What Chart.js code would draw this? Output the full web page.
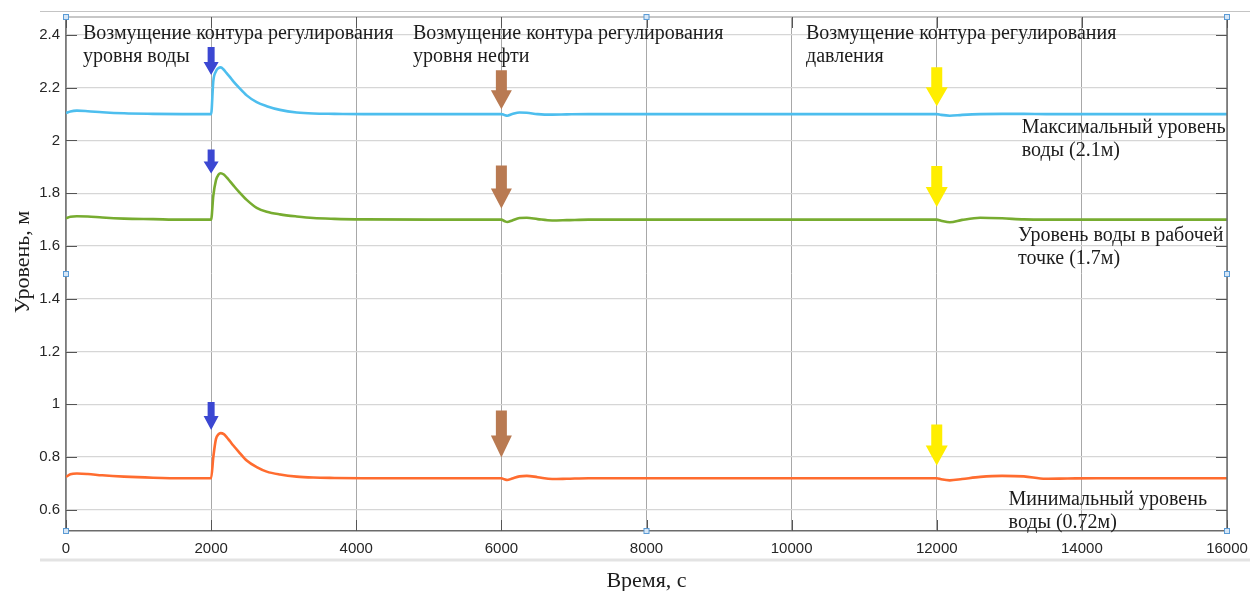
<!DOCTYPE html>
<html>
<head>
<meta charset="utf-8">
<script src="https://cdn.jsdelivr.net/npm/chart.js@4.4.1/dist/chart.umd.min.js"></script>
<style>
  html, body { margin: 0; padding: 0; background: #fff; }
  #wrap { width: 1250px; height: 591px; position: relative; }
</style>
</head>
<body>
<div id="wrap"><canvas id="c" width="1250" height="591"></canvas></div>
<script>
// Simulation time, s
const TIME = [0, 60, 150, 300, 500, 800, 1200, 1600,
  2000, 2030, 2067, 2100, 2132, 2175, 2214, 2260, 2306, 2375,
  2490, 2628, 2766, 2949, 3179, 3408, 3700, 4100,
  5000, 6000, 6040, 6080, 6150, 6250, 6350, 6500, 6700, 6900,
  7200, 8000, 10000,
  12000, 12060, 12180, 12350, 12600, 12900, 13200, 13500, 13800, 14200,
  15000, 16000];

// Maximum water level, m
const LEVEL_MAX = [2.104, 2.110, 2.113, 2.111, 2.107, 2.103, 2.101, 2.100,
  2.100, 2.225, 2.262, 2.274, 2.277, 2.268, 2.255, 2.240, 2.224, 2.203,
  2.171, 2.145, 2.130, 2.116, 2.106, 2.102, 2.101, 2.100,
  2.100, 2.100, 2.097, 2.094, 2.100, 2.106, 2.105, 2.100, 2.098, 2.099,
  2.100, 2.100, 2.100,
  2.100, 2.097, 2.094, 2.097, 2.100, 2.101, 2.101, 2.100, 2.100, 2.100,
  2.100, 2.100];

// Water level at the operating point, m
const LEVEL_WORK = [1.705, 1.711, 1.713, 1.712, 1.708, 1.704, 1.702, 1.700,
  1.700, 1.790, 1.850, 1.870, 1.876, 1.871, 1.860, 1.845, 1.830, 1.808,
  1.775, 1.745, 1.730, 1.720, 1.712, 1.706, 1.703, 1.701,
  1.700, 1.700, 1.695, 1.691, 1.697, 1.706, 1.707, 1.702, 1.697, 1.698,
  1.700, 1.700, 1.700,
  1.700, 1.696, 1.690, 1.699, 1.707, 1.705, 1.701, 1.700, 1.700, 1.700,
  1.700, 1.700];

// Minimum water level, m
const LEVEL_MIN = [0.725, 0.735, 0.738, 0.736, 0.731, 0.726, 0.722, 0.720,
  0.720, 0.800, 0.869, 0.886, 0.891, 0.887, 0.876, 0.860, 0.844, 0.822,
  0.787, 0.762, 0.745, 0.734, 0.726, 0.7225, 0.721, 0.720,
  0.720, 0.720, 0.716, 0.713, 0.719, 0.727, 0.729, 0.724, 0.717, 0.718,
  0.720, 0.720, 0.720,
  0.720, 0.716, 0.712, 0.717, 0.725, 0.729, 0.727, 0.718, 0.719, 0.720,
  0.720, 0.720];

const X_TICKS = [0, 2000, 4000, 6000, 8000, 10000, 12000, 14000, 16000];
const Y_TICKS = [0.6, 0.8, 1, 1.2, 1.4, 1.6, 1.8, 2, 2.2, 2.4];
const Y_TICK_LABELS = ['0.6', '0.8', '1', '1.2', '1.4', '1.6', '1.8', '2', '2.2', '2.4'];

// Disturbance moments and the arrow tip level on each curve
const DISTURB_TIME = [2000, 6000, 12000];
const ARROW_TIP_MAX = [2.248, 2.118, 2.130];
const ARROW_TIP_WORK = [1.875, 1.742, 1.748];
const ARROW_TIP_MIN = [0.903, 0.799, 0.768];

// Disturbance captions: anchor (time, level of first baseline) and text lines
const CAPTION_TIME = [234, 4782, 10198];
const CAPTION_LEVEL = [2.383, 2.383, 2.383];
const CAPTION_TEXT = [
  ['Возмущение контура регулирования', 'уровня воды'],
  ['Возмущение контура регулирования', 'уровня нефти'],
  ['Возмущение контура регулирования', 'давления']
];

// Curve captions
const SERIES_LABEL_TIME = [13170, 13120, 12990];
const SERIES_LABEL_LEVEL = [2.027, 1.618, 0.620];
const SERIES_LABEL_TEXT = [
  ['Максимальный уровень', 'воды (2.1м)'],
  ['Уровень воды в рабочей', 'точке (1.7м)'],
  ['Минимальный уровень', 'воды (0.72м)']
];

const X_TITLE = 'Время, с';
const Y_TITLE = 'Уровень, м';

// ---- styles ----
const SERIF = '"Liberation Serif", "Times New Roman", serif';
const SANS = '"Liberation Sans", Arial, sans-serif';
const ARROW_STYLE = [
  { color: '#3B47D2', len: [28, 24, 28], head: [13, 12, 14], shaft: 7, headW: 15 },
  { color: '#B97A52', len: [39, 43, 47], head: [19, 20, 22], shaft: 11, headW: 21 },
  { color: '#FFEE00', len: [39, 41, 41], head: [19, 20, 20], shaft: 11, headW: 22 }
];

const toPoints = (ys) => TIME.map((t, i) => ({ x: t, y: ys[i] }));

function drawArrow(ctx, x, tipY, len, head, shaft, headW, color) {
  ctx.save();
  ctx.fillStyle = color;
  ctx.beginPath();
  ctx.moveTo(x - shaft / 2, tipY - len);
  ctx.lineTo(x + shaft / 2, tipY - len);
  ctx.lineTo(x + shaft / 2, tipY - head);
  ctx.lineTo(x + headW / 2, tipY - head);
  ctx.lineTo(x, tipY);
  ctx.lineTo(x - headW / 2, tipY - head);
  ctx.lineTo(x - shaft / 2, tipY - head);
  ctx.closePath();
  ctx.fill();
  ctx.restore();
}

const decor = {
  id: 'decor',
  beforeDraw(chart) {
    const ctx = chart.ctx;
    ctx.save();
    ctx.fillStyle = '#ffffff';
    ctx.fillRect(0, 0, chart.width, chart.height);
    // page edge lines around the figure
    ctx.strokeStyle = '#c4c4c4';
    ctx.lineWidth = 1.2;
    ctx.beginPath(); ctx.moveTo(40, 11.5); ctx.lineTo(1250, 11.5); ctx.stroke();
    ctx.strokeStyle = '#e3e3e3';
    ctx.lineWidth = 3;
    ctx.beginPath(); ctx.moveTo(40, 560); ctx.lineTo(1250, 560); ctx.stroke();
    ctx.restore();
  },
  afterDatasetsDraw(chart) {
    const ctx = chart.ctx;
    const xs = chart.scales.x, ys = chart.scales.y;
    const tips = [ARROW_TIP_MAX, ARROW_TIP_WORK, ARROW_TIP_MIN];
    DISTURB_TIME.forEach((t, i) => {
      const st = ARROW_STYLE[i];
      const x = xs.getPixelForValue(t);
      tips.forEach((row, k) => {
        drawArrow(ctx, x, ys.getPixelForValue(row[i]), st.len[k], st.head[k], st.shaft, st.headW, st.color);
      });
    });
  },
  afterDraw(chart) {
    const ctx = chart.ctx;
    const a = chart.chartArea;
    const xs = chart.scales.x, ys = chart.scales.y;
    ctx.save();
    // frame: top and right edges
    ctx.strokeStyle = '#b5b5b5';
    ctx.lineWidth = 1.5;
    ctx.beginPath(); ctx.moveTo(a.left, a.top); ctx.lineTo(a.right, a.top); ctx.stroke();
    ctx.strokeStyle = '#6b6b6b';
    ctx.beginPath(); ctx.moveTo(a.right, a.top); ctx.lineTo(a.right, a.bottom); ctx.stroke();
    // inward tick marks
    ctx.strokeStyle = '#555555';
    ctx.lineWidth = 1;
    const tl = 11;
    Y_TICKS.forEach(v => {
      const y = Math.round(ys.getPixelForValue(v)) + 0.5;
      ctx.beginPath(); ctx.moveTo(a.left, y); ctx.lineTo(a.left + tl, y); ctx.stroke();
      ctx.beginPath(); ctx.moveTo(a.right, y); ctx.lineTo(a.right - tl, y); ctx.stroke();
    });
    X_TICKS.forEach(v => {
      const x = Math.round(xs.getPixelForValue(v)) + 0.5;
      ctx.beginPath(); ctx.moveTo(x, a.bottom); ctx.lineTo(x, a.bottom - tl); ctx.stroke();
      ctx.beginPath(); ctx.moveTo(x, a.top); ctx.lineTo(x, a.top + tl); ctx.stroke();
    });
    // captions
    ctx.fillStyle = '#1c1c1c';
    ctx.font = '20px ' + SERIF;
    ctx.textBaseline = 'alphabetic';
    ctx.textAlign = 'left';
    CAPTION_TEXT.forEach((lines, i) => {
      const x = xs.getPixelForValue(CAPTION_TIME[i]);
      const y = ys.getPixelForValue(CAPTION_LEVEL[i]);
      lines.forEach((s, k) => ctx.fillText(s, x, y + k * 23));
    });
    SERIES_LABEL_TEXT.forEach((lines, i) => {
      const x = xs.getPixelForValue(SERIES_LABEL_TIME[i]);
      const y = ys.getPixelForValue(SERIES_LABEL_LEVEL[i]);
      lines.forEach((s, k) => ctx.fillText(s, x, y + k * 23));
    });
    // axis titles
    ctx.font = '22px ' + SERIF;
    ctx.textAlign = 'center';
    ctx.fillText(X_TITLE, (a.left + a.right) / 2, 587);
    ctx.save();
    ctx.translate(29, 262);
    ctx.rotate(-Math.PI / 2);
    ctx.fillText(Y_TITLE, 0, 0);
    ctx.restore();
    // selection handles around the plot box
    const hx = [a.left, (a.left + a.right) / 2, a.right];
    const hy = [a.top, (a.top + a.bottom) / 2, a.bottom];
    ctx.fillStyle = '#d6e6f6';
    ctx.strokeStyle = '#5b9bd5';
    ctx.lineWidth = 1;
    hx.forEach((x, i) => hy.forEach((y, j) => {
      if (i === 1 && j === 1) return;
      ctx.fillRect(x - 2.5, y - 2.5, 5, 5);
      ctx.strokeRect(x - 2.5, y - 2.5, 5, 5);
    }));
    ctx.restore();
  }
};

const lineSet = (label, ys, color) => ({
  label,
  data: toPoints(ys),
  borderColor: color,
  borderWidth: 2.6,
  pointRadius: 0,
  fill: false,
  cubicInterpolationMode: 'monotone'
});

new Chart(document.getElementById('c'), {
  type: 'line',
  data: {
    datasets: [
      lineSet('Максимальный уровень воды', LEVEL_MAX, '#4DBEEE'),
      lineSet('Уровень воды в рабочей точке', LEVEL_WORK, '#77AC30'),
      lineSet('Минимальный уровень воды', LEVEL_MIN, '#FF6C2F')
    ]
  },
  options: {
    responsive: false,
    animation: false,
    devicePixelRatio: 1,
    layout: { padding: { top: 17, right: 23, left: 0, bottom: 0 } },
    plugins: { legend: { display: false }, tooltip: { enabled: false } },
    scales: {
      x: {
        type: 'linear', min: 0, max: 16000,
        afterBuildTicks(s) { s.ticks = X_TICKS.map(v => ({ value: v })); },
        afterFit(s) { s.height = 60; s.paddingLeft = 0; s.paddingRight = 0; },
        grid: { color: '#a8a8a8', lineWidth: 1, drawTicks: false },
        border: { display: true, color: '#6b6b6b', width: 1.5 },
        ticks: { padding: 9, color: '#262626', font: { family: SANS, size: 15 }, maxRotation: 0,
                 callback: (v) => String(v) }
      },
      y: {
        type: 'linear', min: 0.52, max: 2.468,
        afterBuildTicks(s) { s.ticks = Y_TICKS.map(v => ({ value: v })); },
        afterFit(s) { s.width = 66; s.paddingTop = 0; s.paddingBottom = 0; },
        grid: { color: '#d6d6d6', lineWidth: 1.3, drawTicks: false },
        border: { display: true, color: '#7a7a7a', width: 1.5 },
        ticks: { padding: 6, color: '#262626', font: { family: SANS, size: 15 },
                 callback: (v, i) => Y_TICK_LABELS[i] }
      }
    }
  },
  plugins: [decor]
});
</script>
</body>
</html>
